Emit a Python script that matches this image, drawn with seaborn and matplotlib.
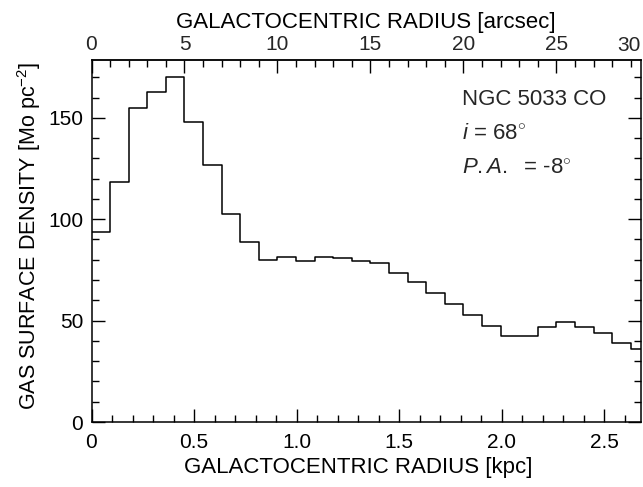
import numpy as np
import pandas as pd
import matplotlib
matplotlib.use("Agg")
import matplotlib.pyplot as plt
import seaborn as sns

# Azimuthally averaged CO surface density, 1-arcsec annuli
radius_arcsec = np.arange(0, 30)  # inner edge of each annulus
surface_density = [93.5, 118.3, 154.9, 162.8, 170.2, 148.0, 126.5, 102.8, 89.0, 79.8,
                   81.3, 79.6, 81.5, 81.0, 79.6, 78.3, 73.5, 68.9, 63.5, 58.4,
                   52.7, 47.4, 42.6, 42.4, 46.6, 49.2, 46.6, 43.8, 39.2, 36.2]
kpc_per_arcsec = 0.0907
bottom_ticks = [0, 0.5, 1.0, 1.5, 2.0, 2.5]
bottom_ticklabels = ["0", "0.5", "1.0", "1.5", "2.0", "2.5"]
top_ticks = [0, 5, 10, 15, 20, 25]
y_ticks = [0, 50, 100, 150]

sns.set_style("ticks")
plt.rcParams["font.family"] = ["Liberation Sans", "DejaVu Sans"]
plt.rcParams["mathtext.fontset"] = "custom"
plt.rcParams["mathtext.rm"] = "Liberation Sans"
plt.rcParams["mathtext.it"] = "Liberation Sans:italic"
plt.rcParams["mathtext.bf"] = "Liberation Sans:bold"

FS_TICK = 15
FS_LABEL = 16
fig = plt.figure(figsize=(6.43, 4.87), dpi=100)
ax = fig.add_axes([91.5 / 643, 65 / 487, 549.5 / 643, 362 / 487])

profile = pd.DataFrame({
    "radius_kpc": (radius_arcsec + 0.5) * kpc_per_arcsec,
    "density": surface_density,
})
bin_edges = [float(e) * kpc_per_arcsec for e in range(0, 31)]
sns.histplot(data=profile, x="radius_kpc", weights="density", bins=bin_edges,
             element="step", fill=False, color="black", linewidth=1.1, ax=ax)

ax.set_xlim(0, 2.68)
ax.set_ylim(0, 178.5)

for s in ax.spines.values():
    s.set_visible(True)
    s.set_color("black")
    s.set_linewidth(1.1)

ax.set_xticks(bottom_ticks)
ax.set_xticklabels(bottom_ticklabels)
ax.set_xticks(np.arange(0, 2.7, 0.1), minor=True)
ax.set_yticks(y_ticks)
ax.set_yticks(np.arange(0, 180, 10), minor=True)
ax.tick_params(axis="both", which="both", direction="in", color="black",
               labelsize=FS_TICK, labelcolor="black")
ax.tick_params(axis="y", which="both", right=True, left=True)
ax.tick_params(axis="x", which="both", top=False, bottom=True)
ax.tick_params(which="major", length=9.5, width=1.0, pad=6)
ax.tick_params(axis="x", which="major", pad=8)
ax.tick_params(which="minor", length=5, width=1.0)

top = ax.secondary_xaxis("top", functions=(lambda x: x / kpc_per_arcsec,
                                           lambda a: a * kpc_per_arcsec))
top.set_xticks(top_ticks)
top.set_xticks(np.arange(0, 30, 1), minor=True)
top.tick_params(axis="x", which="both", direction="in", labelsize=FS_TICK, color="black")
top.tick_params(which="major", length=9.5, width=1.0, pad=4)
top.tick_params(which="minor", length=5, width=1.0)
top.spines["top"].set_linewidth(1.1)
ax.text(1.0, 1.0 + 5 / 362, "30", transform=ax.transAxes, ha="right", va="bottom",
        fontsize=FS_TICK)

ax.set_xlabel("GALACTOCENTRIC RADIUS [kpc]", fontsize=FS_LABEL, color="black")
ax.xaxis.set_label_coords(0.485, -0.097)
top.set_xlabel("GALACTOCENTRIC RADIUS [arcsec]", fontsize=FS_LABEL, color="black",
               labelpad=5)
ax.set_ylabel(r"GAS SURFACE DENSITY [Mo pc$^{-2}$]", fontsize=15.5, color="black")
ax.yaxis.set_label_coords(-0.088, 0.515)

tx = (462 - 91.5) / 549.5
ax.text(tx, 1 - (100 - 60) / 362, "NGC 5033 CO", transform=ax.transAxes,
        fontsize=FS_LABEL, va="center", ha="left")
ax.text(tx, 1 - (134 - 60) / 362, r"$i$ = 68$^{\circ}$", transform=ax.transAxes,
        fontsize=FS_LABEL, va="center", ha="left")
ax.text(tx, 1 - (168 - 60) / 362, r"$P.A.$  = -8$^{\circ}$", transform=ax.transAxes,
        fontsize=FS_LABEL, va="center", ha="left")

fig.savefig("out.png", dpi=100)
